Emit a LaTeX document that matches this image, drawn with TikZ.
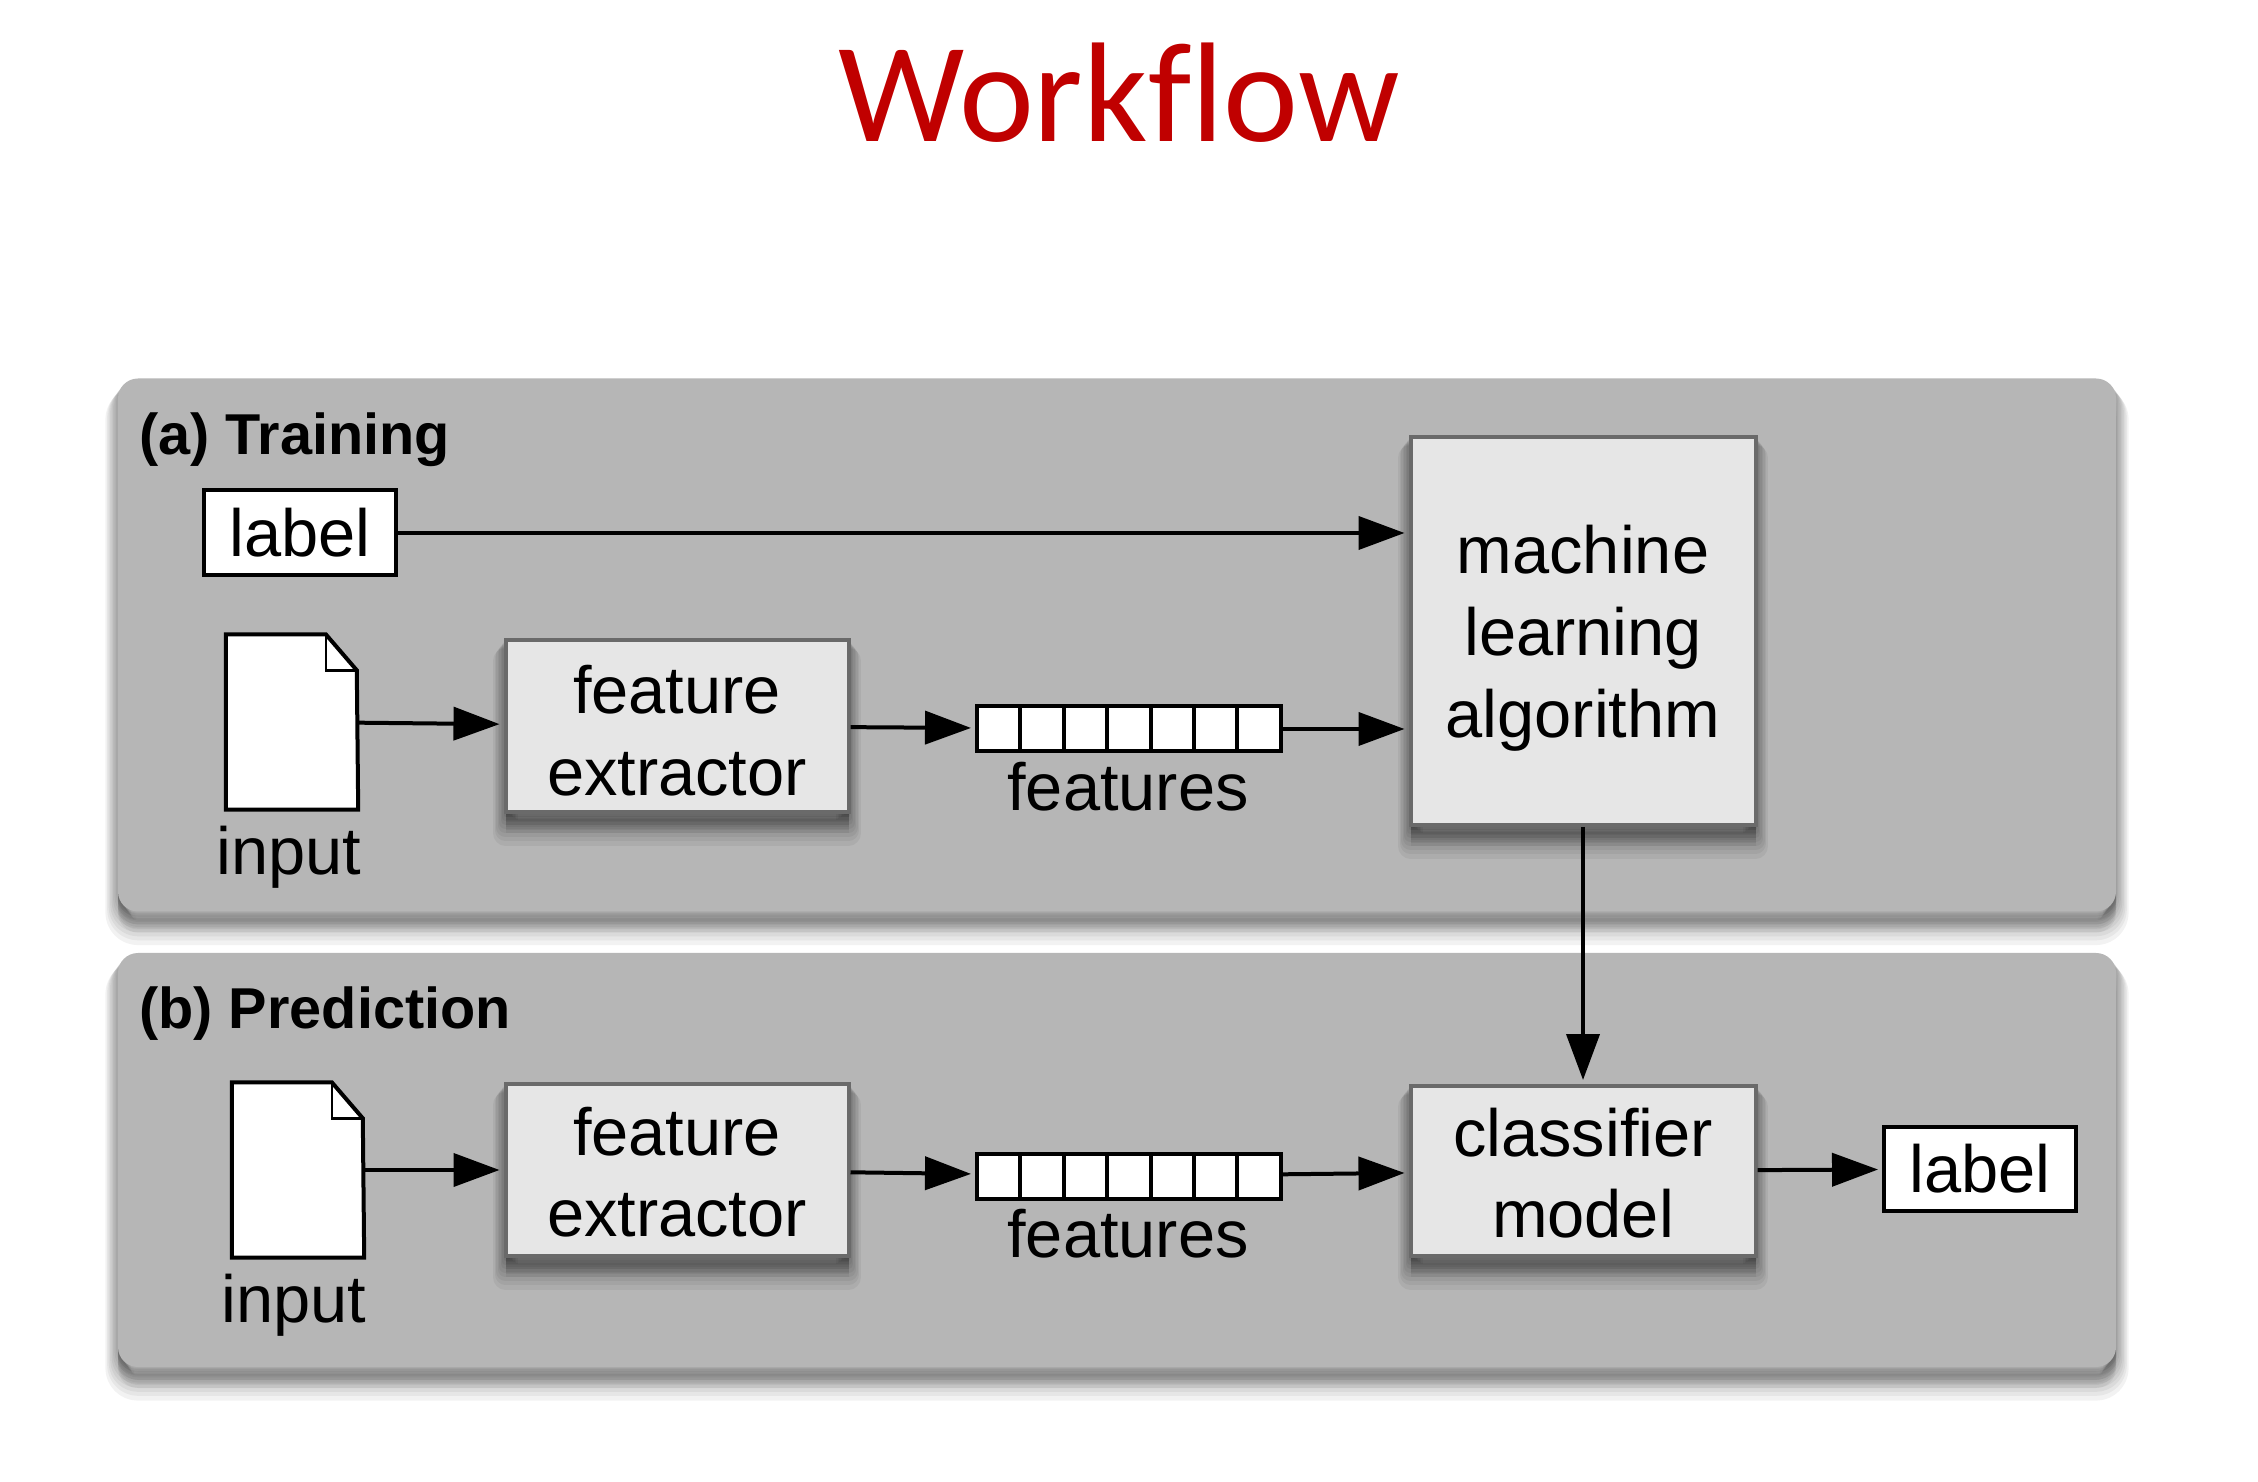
\documentclass[tikz,border=0pt]{standalone}
\usepackage{fontspec}
\setmainfont{Liberation Sans}
\newfontfamily\titlefont[Ligatures=NoCommon]{Carlito}
\usetikzlibrary{arrows.meta}
\definecolor{panelgray}{HTML}{B6B6B6}
\definecolor{boxgray}{HTML}{E6E6E6}
\definecolor{edgegray}{HTML}{6A6A6A}
\definecolor{titlered}{HTML}{C00000}
\tikzset{
    >={Triangle[length=.46cm, width=.33cm]},
    shadowlayer/.style={preaction={fill=black, draw=black, opacity=.05, line width=1.2*#1, line join=round, transform canvas={yshift=-#1}}},
    softshadow/.style={shadowlayer=.21cm, shadowlayer=.18cm, shadowlayer=.155cm, shadowlayer=.13cm, shadowlayer=.105cm,
        shadowlayer=.08cm, shadowlayer=.055cm, shadowlayer=.03cm},
    panel/.style={fill=panelgray, rounded corners=.2cm, minimum width=19.98cm, softshadow},
    panelhead/.style={anchor=base west, font=\fontsize{16.4}{19}\selectfont\bfseries},
    graybox/.style={draw=edgegray, line width=.04cm, fill=boxgray, align=center, inner sep=0pt,
        font=\fontsize{19}{23.3}\selectfont, softshadow},
    whitebox/.style={draw=black, line width=.04cm, fill=white, inner sep=0pt, font=\fontsize{19}{23}\selectfont},
    docspot/.style={minimum width=1.31cm, minimum height=1.74cm, inner sep=0pt},
    caption/.style={anchor=base, font=\fontsize{19}{23}\selectfont},
    conn/.style={->, line width=.04cm, shorten >=.04cm}
}
\newcommand{\docsheet}[1]{
    \draw[line width=.04cm, fill=white] (#1.north west) -- ++(1.0, 0) -- ++(.31, .36)
        -- (#1.south east) -- (#1.south west) -- cycle;
    \draw[line width=.025cm] (#1.north west) ++(1.0, 0) -- ++(0, .36) -- ++(.31, 0);
}
\begin{document}
\begin{tikzpicture}[x=1cm, y=-1cm]
    \useasboundingbox (0, 0) rectangle (22.58, 14.82);
    \node[anchor=base, text=titlered, font=\fontsize{40.4}{48}\selectfont\titlefont] (heading) at (11.19, 1.42) {Workflow};

    % the two panels
    \node[panel, minimum height=5.33cm] (trainpanel) at (11.17, 6.45) {};
    \node[panel, minimum height=4.14cm] (predpanel) at (11.17, 11.6) {};
    \node[panelhead] (trainhead) at (1.27, 4.55) {(a) Training};
    \node[panelhead] (predhead) at (1.27, 10.29) {(b) Prediction};

    % training row
    \node[whitebox, minimum width=1.92cm, minimum height=.85cm] (labela) at (3, 5.33) {\raisebox{-.02cm}{label}};
    \node[docspot] (inputa) at (2.92, 7.22) {};
    \docsheet{inputa}
    \node[caption] (inputcapa) at (2.89, 8.75) {input};
    \node[graybox, minimum width=3.43cm, minimum height=1.72cm] (extracta) at (6.77, 7.26) {\rule{0pt}{16.6pt}feature\\extractor};
    \node[whitebox, minimum width=3.04cm, minimum height=.45cm] (stripa) at (11.29, 7.29) {};
    \node[caption] (featcapa) at (11.28, 8.11) {features};
    \node[graybox, minimum width=3.45cm, minimum height=3.88cm] (mla) at (15.83, 6.31) {\rule{0pt}{18pt}machine\\learning\\algorithm};

    % prediction row
    \node[docspot] (inputb) at (2.98, 11.7) {};
    \docsheet{inputb}
    \node[caption] (inputcapb) at (2.94, 13.22) {input};
    \node[graybox, minimum width=3.43cm, minimum height=1.72cm] (extractb) at (6.77, 11.7) {\rule{0pt}{15pt}feature\\extractor};
    \node[whitebox, minimum width=3.04cm, minimum height=.45cm] (stripb) at (11.29, 11.76) {};
    \node[caption] (featcapb) at (11.28, 12.57) {features};
    \node[graybox, minimum width=3.45cm, minimum height=1.7cm] (clfb) at (15.83, 11.71) {\rule{0pt}{15pt}classifier\\model};
    \node[whitebox, minimum width=1.92cm, minimum height=.84cm] (labelb) at (19.8, 11.69) {\raisebox{-.05cm}{label}};

    \foreach \y in {7.065, 11.535}
    {
        \foreach \i in {1, ..., 6}
        {
            \draw[line width=.04cm] (9.77 + \i * .434, \y) -- (9.77 + \i * .434, \y + .45);
        }
    }

    \draw[conn] (labela) -- (labela -| mla.west);
    \draw[conn] (inputa) -- (extracta);
    \draw[conn] (extracta) -- (stripa);
    \draw[conn] (stripa) -- (stripa -| mla.west);
    \draw[conn] (mla) -- (clfb);
    \draw[conn] (inputb) -- (extractb);
    \draw[conn] (extractb) -- (stripb);
    \draw[conn] (stripb) -- (clfb);
    \draw[conn] (clfb) -- (labelb);
\end{tikzpicture}
\end{document}
